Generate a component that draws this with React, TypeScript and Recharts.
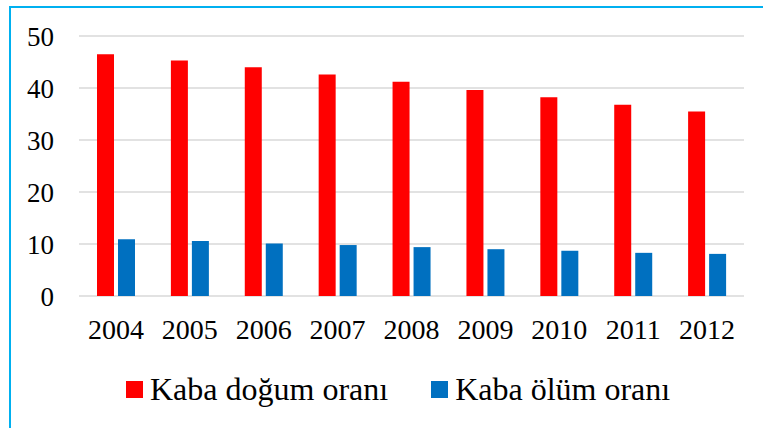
import { BarChart, Bar, XAxis, YAxis, CartesianGrid } from "recharts";

const years = ["2004", "2005", "2006", "2007", "2008", "2009", "2010", "2011", "2012"];
const birthRate = [46.5, 45.3, 44.0, 42.6, 41.2, 39.6, 38.2, 36.8, 35.5];
const deathRate = [10.9, 10.6, 10.1, 9.8, 9.4, 9.0, 8.7, 8.3, 8.1];
const yTicks = [0, 10, 20, 30, 40, 50];

const series = [
  { key: "dogum", label: "Kaba doğum oranı", color: "#FF0000" },
  { key: "olum", label: "Kaba ölüm oranı", color: "#0070C0" },
];

const data = years.map((year, i) => ({
  year,
  dogum: birthRate[i],
  olum: deathRate[i],
}));

const FONT = '"Liberation Serif", "Times New Roman", serif';

export default function App() {
  return (
    <div style={{ position: "absolute", left: 0, top: 0, width: 763, height: 428, background: "#fff" }}>
      {/* cyan frame, only left and top edges are visible in the source */}
      <div
        style={{
          position: "absolute",
          left: 9,
          top: 6,
          right: 0,
          bottom: 0,
          borderLeft: "2px solid #00B0F0",
          borderTop: "2px solid #00B0F0",
        }}
      />
      <BarChart
        width={763}
        height={428}
        data={data}
        margin={{ top: 36, right: 19, left: 0, bottom: 102 }}
        barGap={4}
        barSize={17}
      >
        <CartesianGrid vertical={false} stroke="#D9D9D9" strokeWidth={1.5} />
        <XAxis
          dataKey="year"
          axisLine={false}
          tickLine={false}
          tickSize={0}
          tickMargin={23}
          tick={{ fill: "#000", fontSize: 28, fontFamily: FONT }}
          interval={0}
        />
        <YAxis
          width={79}
          domain={[0, 50]}
          ticks={yTicks}
          axisLine={false}
          tickLine={false}
          tickSize={0}
          tickMargin={25}
          tick={{ fill: "#000", fontSize: 27, fontFamily: FONT }}
        />
        {series.map((s) => (
          <Bar key={s.key} dataKey={s.key} name={s.label} fill={s.color} isAnimationActive={false} />
        ))}
      </BarChart>
      <div
        style={{
          position: "absolute",
          left: 126,
          top: 373,
          display: "flex",
          alignItems: "center",
          fontFamily: FONT,
          fontSize: 32,
          lineHeight: 1,
          color: "#000",
        }}
      >
        {series.map((s, i) => (
          <div key={s.key} style={{ display: "flex", alignItems: "center", marginRight: i === 0 ? 43 : 0 }}>
            <span style={{ width: 17, height: 17, background: s.color, display: "inline-block", marginRight: 7 }} />
            <span style={{ whiteSpace: "nowrap" }}>{s.label}</span>
          </div>
        ))}
      </div>
    </div>
  );
}
